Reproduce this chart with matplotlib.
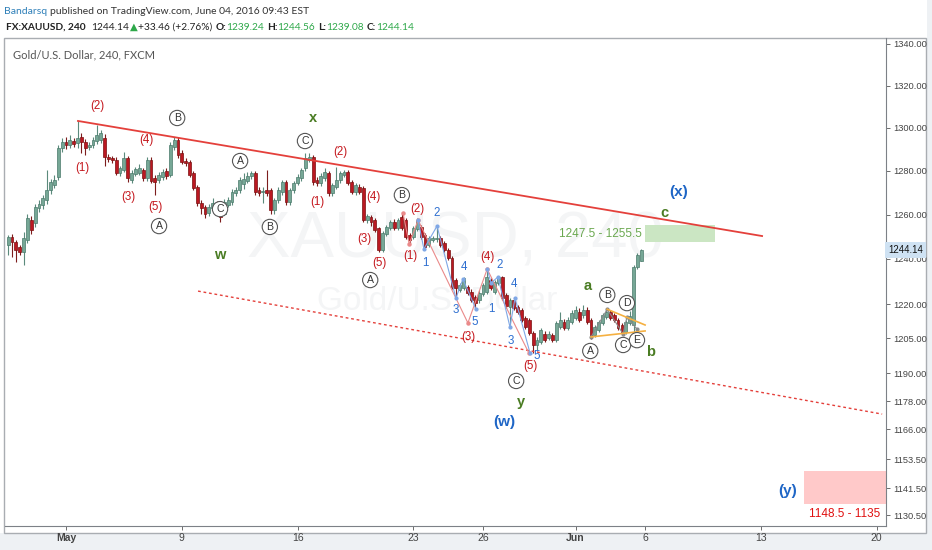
import matplotlib
matplotlib.use("Agg")
import numpy as np
import matplotlib.pyplot as plt
import matplotlib.ticker as mticker
from matplotlib.patches import Rectangle

# ── Data (4h bars, index 0 = first bar of Mon May 2 2016, 6 bars per day) ──
bar_idx = list(range(-15, 150))
opens = [
    1246.2, 1249.8, 1247.6, 1245.3, 1243.1, 1248.5, 1257.5, 1256.2, 1263.0, 1264.3,
    1266.6, 1271.2, 1273.5, 1277.2, 1290.6, 1293.4, 1292.0, 1293.9, 1293.0, 1295.8,
    1293.4, 1291.1, 1292.0, 1294.0, 1294.4, 1295.3, 1286.5, 1286.0, 1285.1, 1279.0,
    1280.4, 1286.0, 1275.8, 1278.5, 1279.0, 1280.4, 1276.7, 1285.1, 1276.7, 1275.8,
    1277.2, 1279.9, 1278.1, 1291.1, 1294.4, 1288.3, 1284.6, 1284.2, 1279.0, 1272.6,
    1265.2, 1263.4, 1260.6, 1263.0, 1264.3, 1263.0, 1260.1, 1264.3, 1265.7, 1269.8,
    1271.2, 1274.0, 1275.4, 1277.7, 1279.0, 1271.2, 1270.3, 1271.2, 1271.2, 1262.1,
    1266.6, 1270.3, 1274.9, 1265.7, 1271.2, 1274.4, 1276.7, 1281.3, 1285.1, 1286.5,
    1275.8, 1274.4, 1276.7, 1279.0, 1269.8, 1272.6, 1275.8, 1278.1, 1279.5, 1274.9,
    1270.3, 1272.6, 1272.1, 1257.5, 1258.8, 1257.5, 1253.9, 1244.0, 1251.2, 1253.9,
    1256.6, 1253.9, 1258.8, 1257.5, 1250.7, 1249.9, 1253.5, 1254.4, 1250.7, 1246.2,
    1248.5, 1248.8, 1249.4, 1247.1, 1244.0, 1240.4, 1230.6, 1226.2, 1227.1, 1227.5,
    1225.3, 1223.0, 1221.7, 1224.4, 1225.3, 1230.6, 1225.3, 1229.3, 1231.9, 1223.9,
    1218.6, 1221.7, 1218.6, 1217.3, 1213.9, 1213.0, 1207.3, 1202.0, 1203.3, 1206.8,
    1205.1, 1206.4, 1204.2, 1209.9, 1212.1, 1209.5, 1212.1, 1213.9, 1216.4, 1215.1,
    1217.3, 1213.0, 1206.4, 1208.6, 1211.7, 1214.3, 1216.4, 1215.1, 1213.0, 1210.8,
    1207.7, 1211.7, 1210.8, 1236.4, 1239.24,
]
highs = [
    1250.7, 1251.2, 1248.5, 1246.2, 1252.1, 1260.2, 1259.3, 1265.0, 1266.5, 1269.0,
    1280.4, 1276.5, 1278.1, 1292.0, 1295.5, 1296.0, 1296.5, 1295.5, 1303.3, 1297.5,
    1294.8, 1293.5, 1295.8, 1301.4, 1299.0, 1297.0, 1288.0, 1287.0, 1286.5, 1282.5,
    1288.8, 1287.0, 1280.4, 1282.0, 1283.0, 1281.5, 1286.5, 1286.5, 1278.0, 1279.5,
    1280.8, 1281.5, 1293.5, 1295.8, 1296.0, 1289.5, 1286.0, 1285.0, 1279.9, 1273.5,
    1266.5, 1264.5, 1265.0, 1267.5, 1266.0, 1264.0, 1267.0, 1268.0, 1271.5, 1272.5,
    1277.0, 1279.0, 1279.5, 1280.0, 1280.0, 1272.5, 1272.5, 1280.4, 1272.0, 1267.5,
    1272.5, 1276.0, 1276.0, 1272.0, 1275.5, 1278.5, 1281.5, 1288.3, 1288.3, 1287.5,
    1277.0, 1279.0, 1281.3, 1280.0, 1274.5, 1281.8, 1280.0, 1280.4, 1280.5, 1276.0,
    1274.5, 1274.0, 1273.0, 1260.5, 1260.0, 1258.5, 1254.5, 1252.5, 1255.5, 1257.5,
    1258.0, 1258.5, 1261.2, 1258.5, 1251.5, 1255.0, 1258.4, 1255.5, 1251.5, 1250.5,
    1250.5, 1254.8, 1250.5, 1248.0, 1245.0, 1241.3, 1231.5, 1229.5, 1232.0, 1228.5,
    1226.5, 1224.0, 1226.0, 1229.5, 1235.1, 1231.5, 1230.8, 1232.6, 1232.6, 1225.0,
    1222.6, 1223.0, 1219.5, 1218.2, 1214.8, 1213.9, 1208.2, 1205.5, 1209.5, 1208.0,
    1208.0, 1207.5, 1212.6, 1216.5, 1213.5, 1214.3, 1217.3, 1219.1, 1218.2, 1219.5,
    1218.6, 1213.9, 1211.0, 1213.0, 1216.0, 1217.7, 1217.3, 1216.0, 1213.9, 1211.7,
    1213.0, 1216.9, 1237.3, 1242.6, 1244.56,
]
lows = [
    1241.7, 1240.8, 1238.6, 1241.7, 1237.3, 1247.1, 1251.2, 1254.4, 1261.2, 1262.5,
    1265.0, 1269.5, 1272.0, 1275.8, 1289.0, 1290.0, 1290.5, 1291.0, 1290.8, 1288.3,
    1287.4, 1289.5, 1290.5, 1292.5, 1293.0, 1282.3, 1284.0, 1283.5, 1278.0, 1277.5,
    1279.5, 1274.9, 1274.5, 1277.5, 1278.0, 1275.5, 1275.5, 1274.5, 1268.9, 1274.5,
    1276.0, 1276.5, 1277.0, 1289.5, 1286.0, 1283.0, 1282.5, 1277.0, 1271.2, 1264.0,
    1260.5, 1258.5, 1259.5, 1262.0, 1260.0, 1256.6, 1259.8, 1263.5, 1264.5, 1268.5,
    1270.0, 1271.5, 1274.5, 1276.5, 1269.0, 1268.5, 1265.2, 1268.5, 1260.5, 1260.5,
    1265.5, 1269.0, 1264.5, 1264.5, 1270.0, 1273.5, 1275.5, 1280.0, 1284.0, 1273.5,
    1273.0, 1273.0, 1275.5, 1268.5, 1268.5, 1271.5, 1274.5, 1277.0, 1273.5, 1269.5,
    1269.0, 1269.5, 1256.5, 1256.0, 1255.0, 1252.0, 1243.1, 1243.1, 1250.5, 1253.0,
    1253.0, 1253.0, 1253.0, 1249.0, 1246.7, 1249.0, 1252.5, 1249.0, 1244.5, 1245.5,
    1247.5, 1247.5, 1245.3, 1243.1, 1239.5, 1226.6, 1223.1, 1225.3, 1226.2, 1224.0,
    1220.8, 1217.7, 1220.5, 1223.5, 1224.5, 1226.2, 1224.5, 1228.4, 1221.7, 1218.2,
    1211.0, 1217.3, 1215.5, 1212.1, 1209.0, 1206.4, 1198.6, 1199.5, 1202.5, 1203.3,
    1204.2, 1203.3, 1203.3, 1209.0, 1208.6, 1208.6, 1211.2, 1213.0, 1212.1, 1214.0,
    1211.2, 1204.6, 1205.5, 1207.7, 1210.8, 1213.5, 1213.0, 1212.1, 1208.6, 1206.8,
    1206.8, 1210.8, 1207.7, 1235.5, 1239.08,
]
closes = [
    1249.8, 1247.6, 1244.0, 1243.1, 1249.4, 1258.4, 1253.0, 1263.4, 1264.7, 1267.5,
    1271.2, 1274.9, 1275.8, 1290.6, 1293.4, 1292.0, 1294.4, 1292.5, 1295.3, 1293.4,
    1290.6, 1292.0, 1294.4, 1296.7, 1297.6, 1286.5, 1285.6, 1285.1, 1279.0, 1281.3,
    1286.0, 1276.7, 1279.0, 1280.9, 1281.3, 1276.7, 1285.1, 1275.4, 1274.9, 1278.1,
    1279.5, 1277.7, 1292.0, 1294.4, 1287.4, 1284.2, 1283.7, 1278.1, 1272.1, 1265.2,
    1263.0, 1260.2, 1263.4, 1265.2, 1261.1, 1258.8, 1265.7, 1266.6, 1270.3, 1271.2,
    1275.8, 1276.5, 1277.7, 1279.0, 1270.3, 1269.8, 1271.0, 1269.8, 1262.1, 1266.6,
    1271.2, 1274.9, 1265.7, 1271.2, 1274.4, 1277.2, 1280.4, 1286.0, 1286.5, 1274.9,
    1274.4, 1277.7, 1279.5, 1269.8, 1273.5, 1275.8, 1279.0, 1279.5, 1274.4, 1270.3,
    1273.5, 1270.3, 1257.5, 1259.3, 1256.6, 1253.0, 1244.0, 1251.6, 1254.4, 1256.6,
    1253.9, 1257.5, 1253.9, 1249.9, 1248.5, 1253.9, 1257.5, 1249.9, 1245.3, 1249.4,
    1249.4, 1249.4, 1246.2, 1244.0, 1240.4, 1227.5, 1227.1, 1228.4, 1231.5, 1224.9,
    1221.7, 1220.4, 1224.9, 1228.4, 1231.9, 1227.1, 1229.7, 1231.9, 1222.6, 1219.1,
    1221.7, 1218.2, 1216.4, 1213.0, 1209.9, 1207.3, 1202.0, 1204.2, 1208.6, 1204.2,
    1206.8, 1204.2, 1211.7, 1213.0, 1209.5, 1213.0, 1216.0, 1217.3, 1213.0, 1217.3,
    1212.1, 1205.5, 1209.9, 1212.1, 1215.1, 1216.4, 1213.9, 1213.0, 1209.5, 1207.3,
    1212.1, 1214.8, 1236.4, 1241.8, 1244.14,
]

x_ticks = [0, 30, 60, 90, 108, 132, 150, 180, 210]
x_labels = ["May", "9", "16", "23", "26", "Jun", "6", "13", "20"]
y_ticks = [1340, 1320, 1300, 1280, 1260, 1240, 1220, 1205, 1190, 1178, 1166, 1153.5, 1141.5, 1130.5]

# channel lines (bar, price)
upper_line = ([3.1, 180.3], [1303.3, 1250.3])
lower_line = ([34.2, 211.4], [1225.7, 1172.5])

# target zones: (bar start, bar end, low, high)
zone_x = (150, 168, 1247.5, 1255.5)
zone_y = (191.2, 212.4, 1135.0, 1148.5)

# wave counts drawn as thin zigzags
red_zig = ([87.3, 88.9, 91.2, 104.1, 109.1, 119.9],
           [1260.6, 1246.7, 1257.5, 1211.7, 1235.5, 1198.6])
blue_zig1 = ([91.2, 92.7, 96.1, 101.0, 102.8, 106.2],
             [1257.5, 1244.5, 1254.8, 1222.6, 1231.0, 1217.7])
blue_zig2 = ([109.1, 110.1, 111.9, 115.0, 116.3, 120.2],
             [1235.5, 1229.3, 1232.0, 1209.9, 1222.6, 1198.6])
tri_zig = ([136.0, 140.2, 144.3, 145.3, 147.9],
           [1205.6, 1217.7, 1206.9, 1214.3, 1209.0])
tri_upper = ([140.2, 150.0], [1217.7, 1210.8])
tri_lower = ([136.0, 150.0], [1205.6, 1208.2])

red_labels = [("(2)", 8.0, 1310.3), ("(1)", 4.1, 1281.3), ("(4)", 20.7, 1294.4),
              ("(3)", 16.1, 1268.0), ("(5)", 23.1, 1263.4), ("(2)", 71.0, 1288.8),
              ("(1)", 65.0, 1265.7), ("(4)", 79.5, 1268.0), ("(3)", 77.2, 1248.9),
              ("(5)", 81.1, 1238.2), ("(2)", 90.9, 1262.5), ("(1)", 89.1, 1241.3),
              ("(4)", 109.1, 1240.8), ("(3)", 104.1, 1205.6), ("(5)", 120.2, 1193.0)]
circle_labels = [("B", 28.8, 1304.7), ("A", 24.1, 1254.8), ("A", 45.1, 1284.6),
                 ("C", 39.9, 1262.5), ("B", 52.8, 1254.4), ("C", 61.9, 1293.9),
                 ("B", 87.0, 1268.9), ("A", 78.8, 1230.6), ("C", 116.6, 1186.6),
                 ("A", 135.8, 1199.5), ("B", 140.2, 1224.0), ("C", 144.3, 1202.1),
                 ("D", 145.3, 1220.4), ("E", 147.9, 1204.2)]
green_labels = [("x", 64.0, 1304.7), ("w", 39.9, 1241.7), ("y", 117.9, 1177.6),
                ("a", 135.2, 1227.9), ("b", 151.3, 1199.0), ("c", 154.9, 1260.6)]
blue_labels = [("(w)", 113.5, 1169.1), ("(x)", 158.8, 1270.3), ("(y)", 187.0, 1140.4)]
digit_labels = [("1", 93.0, 1238.2), ("2", 96.1, 1260.6), ("4", 103.1, 1236.4),
                ("3", 101.0, 1217.3), ("5", 106.0, 1212.1), ("1", 110.1, 1217.7),
                ("2", 112.2, 1237.3), ("4", 116.1, 1228.8), ("3", 115.3, 1203.8),
                ("5", 122.0, 1197.3)]

W, H = 932, 550
RED = "#e4403b"

# ── Figure ─────────────────────────────────────────────────────────────────
fig = plt.figure(figsize=(W / 100, H / 100), dpi=100)
fig.patch.set_facecolor("white")
fig.add_artist(Rectangle((0, 0), 1, 1 - 533 / H, transform=fig.transFigure,
                         fc="#eef1f4", ec="none", zorder=-3))
fig.add_artist(Rectangle((927 / W, 0), 1, 1, transform=fig.transFigure,
                         fc="#eef1f4", ec="none", zorder=-3))
fig.add_artist(Rectangle((4 / W, 1 - 533 / H), 922 / W, 495 / H, transform=fig.transFigure,
                         fc="white", ec="#a9adb2", lw=1.0, zorder=-2))

ax = fig.add_axes([5 / W, 1 - 526 / H, 881 / W, 488 / H])
ax.set_facecolor("none")
ax.set_yscale("log")
ax.set_ylim(1126.1, 1342.9)
ax.set_xlim(-15.8, 212.4)

# watermark
ax.text(0.511, 0.585, "XAUUSD, 240", transform=ax.transAxes, fontsize=47,
        color="#f4f5f6", ha="center", va="center", family="Liberation Sans", zorder=0)
ax.text(0.49, 0.46, "Gold/U.S. Dollar", transform=ax.transAxes, fontsize=24,
        color="#f4f5f6", ha="center", va="center", family="Liberation Sans", zorder=0)

# candles
x = np.array(bar_idx)
o, hi, lo, c = (np.array(v) for v in (opens, highs, lows, closes))
up = c >= o
ax.vlines(x[up], lo[up], hi[up], color="#5b8a7c", lw=0.8, zorder=2)
ax.vlines(x[~up], lo[~up], hi[~up], color="#7d1d1d", lw=0.8, zorder=2)
ax.bar(x[up], np.maximum(c[up] - o[up], 0.3), bottom=o[up], width=0.74,
       color="#76a796", edgecolor="#4a7a6b", lw=0.5, zorder=3)
ax.bar(x[~up], np.maximum(o[~up] - c[~up], 0.3), bottom=c[~up], width=0.74,
       color="#bb1822", edgecolor="#7a1010", lw=0.5, zorder=3)

# channel
ax.plot(*upper_line, color=RED, lw=1.3, zorder=4)
ax.plot(*lower_line, color=RED, lw=1.0, ls=(0, (2, 2)), zorder=4)

# target zones
ax.add_patch(Rectangle((zone_x[0], zone_x[2]), zone_x[1] - zone_x[0], zone_x[3] - zone_x[2],
                       fc="#cbe6c3", ec="none", zorder=1))
ax.add_patch(Rectangle((zone_y[0], zone_y[2]), zone_y[1] - zone_y[0], zone_y[3] - zone_y[2],
                       fc="#ffc9c9", ec="none", zorder=1))
ax.text(149.2, 1251.3, "1247.5 - 1255.5", color="#6aa84f", fontsize=8.5, ha="right",
        va="center", family="Liberation Sans")
ax.text(201.8, 1131.0, "1148.5 - 1135", color="#e01010", fontsize=8.5, ha="center",
        va="center", family="Liberation Sans")

# zigzags
ax.plot(*red_zig, color="#ea8a8a", lw=0.8, marker="o", ms=2.2, zorder=5)
ax.plot(*blue_zig1, color="#7fa7e6", lw=0.8, marker="o", ms=2.0, zorder=5)
ax.plot(*blue_zig2, color="#7fa7e6", lw=0.8, marker="o", ms=2.0, zorder=5)
ax.plot(*tri_zig, color="#8a8a8a", lw=0.8, marker="o", ms=2.0, zorder=5)
ax.plot(*tri_upper, color="#f5b041", lw=1.2, zorder=5)
ax.plot(*tri_lower, color="#f5b041", lw=1.2, zorder=5)

# wave labels
for s, bx, py in red_labels:
    ax.text(bx, py, s, color="#c4161c", fontsize=8.3, ha="center", va="center",
            family="Liberation Sans", zorder=6)
for s, bx, py in circle_labels:
    ax.text(bx, py, s, color="#333333", fontsize=7.6, ha="center", va="center",
            family="Liberation Sans", zorder=6,
            bbox=dict(boxstyle="circle,pad=0.25", fc="white", ec="#555555", lw=0.8))
for s, bx, py in green_labels:
    ax.text(bx, py, s, color="#4a7c23", fontsize=10.5, fontweight="bold", ha="center",
            va="center", family="Liberation Sans", zorder=6)
for s, bx, py in blue_labels:
    ax.text(bx, py, s, color="#1f66c6", fontsize=11, fontweight="bold", ha="center",
            va="center", family="Liberation Sans", zorder=6)
for s, bx, py in digit_labels:
    ax.text(bx, py, s, color="#2e6fd0", fontsize=8.3, ha="center", va="center",
            family="Liberation Sans", zorder=6)

# axes styling
for side in ("top", "left"):
    ax.spines[side].set_visible(False)
for side in ("right", "bottom"):
    ax.spines[side].set_color("#7d8187")
ax.yaxis.tick_right()
ax.yaxis.set_major_locator(mticker.FixedLocator(y_ticks))
ax.yaxis.set_minor_locator(mticker.NullLocator())
ax.yaxis.set_major_formatter(mticker.FormatStrFormatter("%.2f"))
ax.set_xticks(x_ticks)
ax.set_xticklabels(x_labels)
ax.tick_params(axis="both", colors="#555555", labelcolor="#444444", labelsize=7.5,
               length=3, width=0.6, direction="out", pad=2)
ax.tick_params(axis="y", labelsize=6.7)
for lab in ax.get_xticklabels() + ax.get_yticklabels():
    lab.set_family("Liberation Sans")
for lab in ax.get_xticklabels():
    if lab.get_text() in ("May", "Jun"):
        lab.set_fontweight("bold")

# last price tag
ax.annotate("1244.14", xy=(1.0, closes[-1]), xycoords=("axes fraction", "data"),
            xytext=(1.5, 0), textcoords="offset points", ha="left", va="center",
            fontsize=6.9, color="#111111", family="Liberation Sans", zorder=7,
            bbox=dict(boxstyle="square,pad=0.3", fc="#cfe2f3", ec="none"),
            annotation_clip=False)

# ── Header text ────────────────────────────────────────────────────────────
renderer = fig.canvas.get_renderer()
HEAD_FONT = ["Lato", "DejaVu Sans"]


def run_text(parts, x0, y, size):
    xp = x0
    for s, color, weight, gap in parts:
        t = fig.text(xp / W, 1 - y / H, s, color=color, fontweight=weight, fontsize=size,
                     va="center", ha="left", family=HEAD_FONT)
        xp += t.get_window_extent(renderer=renderer).width + gap


run_text([("Bandarsq", "#2d7fb8", "normal", 3),
          ("published on TradingView.com, June 04, 2016 09:43 EST", "#333333", "normal", 0)],
         4, 11, 7.5)
GRN = "#2ea84a"
run_text([("FX:XAUUSD, 240", "#222222", "bold", 5),
          ("1244.14", "#222222", "normal", 1),
          ("\u25B2", GRN, "normal", 1),
          ("+33.46 (+2.76%)", "#222222", "normal", 3),
          ("O:", "#222222", "bold", 0), ("1239.24", GRN, "normal", 3),
          ("H:", "#222222", "bold", 0), ("1244.56", GRN, "normal", 3),
          ("L:", "#222222", "bold", 0), ("1239.08", GRN, "normal", 3),
          ("C:", "#222222", "bold", 0), ("1244.14", GRN, "normal", 0)],
         6, 27, 7.3)
fig.text(13 / W, 1 - 55 / H, "Gold/U.S. Dollar, 240, FXCM", color="#555555", fontsize=8,
         va="center", ha="left", family=HEAD_FONT)

fig.savefig("out.png", dpi=100)
